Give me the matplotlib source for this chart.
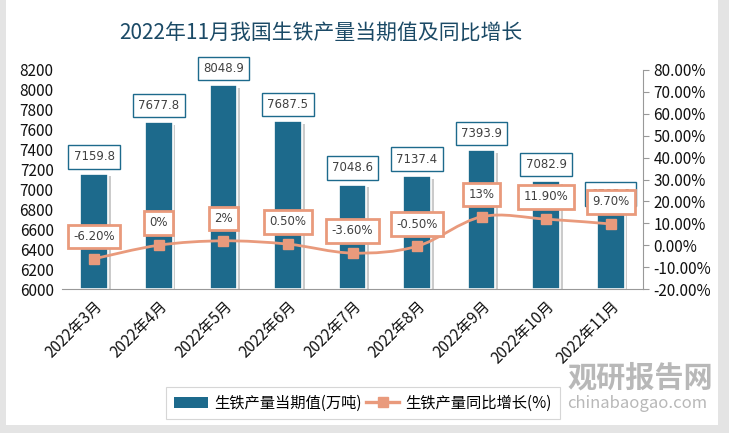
import numpy as np
import matplotlib.pyplot as plt
from matplotlib.patches import Rectangle, PathPatch
from matplotlib.path import Path
import matplotlib.patheffects as pe
from matplotlib.lines import Line2D
from matplotlib.patches import Patch

plt.rcParams['font.family'] = ['Noto Sans CJK SC', 'DejaVu Sans']
plt.rcParams['hatch.linewidth'] = 0.6
plt.rcParams['hatch.color'] = '#d4d4d4'

# data
months = ['2022年3月', '2022年4月', '2022年5月', '2022年6月', '2022年7月',
          '2022年8月', '2022年9月', '2022年10月', '2022年11月']
output = [7159.8, 7677.8, 8048.9, 7687.5, 7048.6, 7137.4, 7393.9, 7082.9, 6785.0]
growth = [-6.2, 0.0, 2.0, 0.5, -3.6, -0.5, 13.0, 11.9, 9.7]
growth_txt = ['-6.20%', '0%', '2%', '0.50%', '-3.60%', '-0.50%', '13%', '11.90%', '9.70%']

bar_col = '#1d6a8c'
line_col = '#e99a7c'

fig = plt.figure(figsize=(7.29, 4.33), dpi=100, facecolor='#e4e4e4')
# white card
fig.patches.append(Rectangle((6/729, 8/433), 712/729, 425/433, transform=fig.transFigure,
                             facecolor='white', edgecolor='none', zorder=-5))

ax = fig.add_axes([62/729, 1-289/433, 581/729, 219/433])
ax.set_facecolor('none')
ax.add_patch(Rectangle((0, 0), 1, 1, transform=ax.transAxes, facecolor='white',
                       edgecolor='none', hatch='//////', zorder=0))
x = np.arange(len(months))
bars = ax.bar(x, [v - 6000 for v in output], bottom=6000, width=0.43, color=bar_col,
              edgecolor='white', linewidth=1.2, zorder=2)
for b in bars:
    b.set_path_effects([pe.SimplePatchShadow(offset=(2, -2), shadow_rgbFace='#999999', alpha=0.5),
                        pe.Normal()])

ax.set_ylim(6000, 8200)
ax.set_xlim(-0.5, len(months) - 0.5)
ax.set_yticks(np.arange(6000, 8201, 200))
ax.tick_params(axis='y', length=0, labelsize=11, pad=6, labelcolor='#111111')
ax.set_xticks(x)
ax.set_xticklabels(months, rotation=45, ha='right', rotation_mode='anchor', fontsize=11,
                   color='#111111')
ax.tick_params(axis='x', length=0, pad=6)
for s in ['top', 'right', 'left']:
    ax.spines[s].set_visible(False)
ax.spines['bottom'].set_color('#999999')

for i, v in enumerate(output):
    ax.annotate(f'{v:.1f}', (x[i], v), xytext=(0, 12), textcoords='offset points',
                ha='center', va='center', fontsize=8.5, color='#404040',
                family=['DejaVu Sans'],
                bbox=dict(boxstyle='square,pad=0.45', fc='white', ec=bar_col, lw=1),
                zorder=5)

ax2 = ax.twinx()
ax2.set_ylim(-20, 80)
ax2.set_yticks(np.arange(-20, 81, 10))
ax2.set_yticklabels([f'{t:.2f}%' for t in np.arange(-20, 81, 10)])
ax2.tick_params(axis='y', labelsize=11, length=4, color='#999999', labelcolor='#111111')
for s in ['top', 'left', 'bottom']:
    ax2.spines[s].set_visible(False)
ax2.spines['right'].set_color('#999999')

# smoothed line (Catmull-Rom as bezier segments)
pts = np.column_stack([x, growth]).astype(float)
verts = [pts[0]]
codes = [Path.MOVETO]
for i in range(len(pts) - 1):
    p0 = pts[i - 1] if i > 0 else pts[i]
    p1, p2 = pts[i], pts[i + 1]
    p3 = pts[i + 2] if i + 2 < len(pts) else pts[i + 1]
    c1 = p1 + (p2 - p0) / 6
    c2 = p2 - (p3 - p1) / 6
    verts += [c1, c2, p2]
    codes += [Path.CURVE4] * 3
ax2.add_patch(PathPatch(Path(verts, codes), fc='none', ec=line_col, lw=2.0, zorder=3))
ax2.plot(x, growth, ls='none', marker='s', ms=7.5, color=line_col, zorder=4)

for i, g in enumerate(growth):
    ax2.annotate(growth_txt[i], (x[i], g), xytext=(0, 16), textcoords='offset points',
                 ha='center', va='center', fontsize=8.5, color='#404040',
                 family=['DejaVu Sans'],
                 bbox=dict(boxstyle='square,pad=0.45', fc='white', ec=line_col, lw=2),
                 zorder=6)

fig.text(0.44, 1-33/433, '2022年11月我国生铁产量当期值及同比增长', ha='center', va='center',
         fontsize=15, color='#1b4a66')

handles = [Patch(facecolor=bar_col, edgecolor='none'),
           Line2D([], [], color=line_col, lw=2.4, marker='s', ms=7)]
leg = fig.legend(handles, ['生铁产量当期值(万吨)', '生铁产量同比增长(%)'], ncol=2,
                 loc='center', bbox_to_anchor=(363/729, 1-403/433), fontsize=11,
                 frameon=True, fancybox=False, edgecolor='#cccccc', handlelength=2.2,
                 columnspacing=0.3, handletextpad=0.4, borderpad=0.5)
leg.get_frame().set_linewidth(0.8)
leg.set_zorder(3)

# watermark
fig.text(640/729, 1-378/433, '观研报告网', ha='center', va='center', fontsize=21,
         fontweight='bold', color='#9a9a9a', alpha=0.7, zorder=4)
fig.text(637/729, 1-403/433, 'chinabaogao.com', ha='center', va='center', fontsize=12,
         color='#9a9a9a', alpha=0.7, zorder=4)

fig.savefig('out.png', dpi=100, facecolor=fig.get_facecolor())
